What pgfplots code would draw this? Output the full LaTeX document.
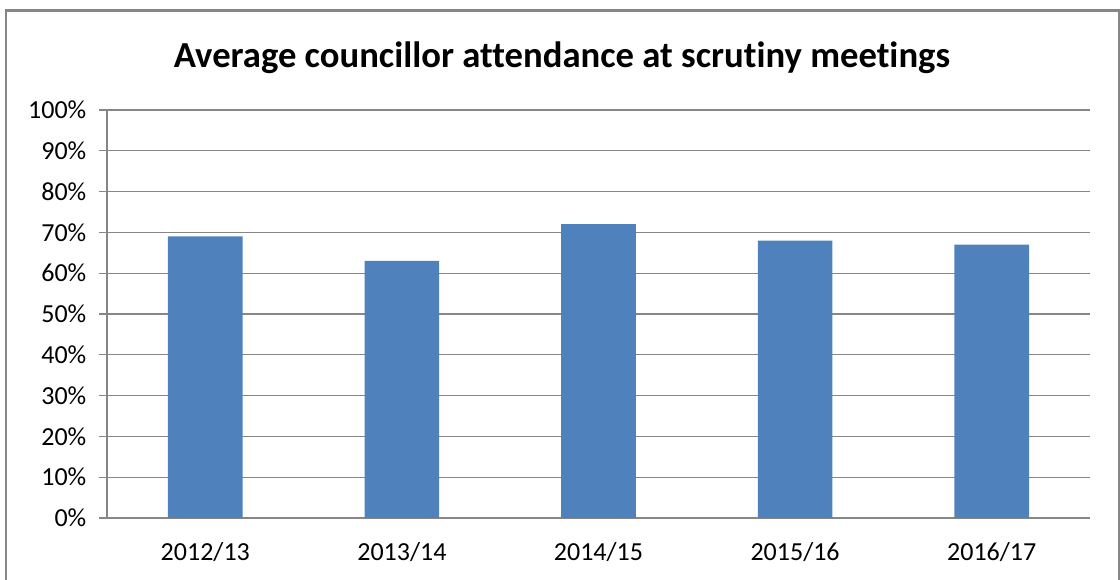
\documentclass[border=0pt]{standalone}
\usepackage{fontspec}
\setmainfont{Carlito}[Ligatures={NoCommon}]
\usepackage{pgfplots}
\pgfplotsset{compat=1.18}
\definecolor{barblue}{HTML}{4F81BD}
\definecolor{gridgray}{HTML}{868686}
\begin{document}
\begin{tikzpicture}[x=1pt,y=1pt]
\path[use as bounding box] (0,0) rectangle (840,435);
\draw[gridgray, line width=1.9pt] (4.5,-3) -- (4.5,427.1) -- (839.25,427.1) -- (839.25,-3);
\node[font=\fontsize{27.5}{32}\selectfont\bfseries] at (421.5,391.5) {Average councillor attendance at scrutiny meetings};
\begin{axis}[
  at={(80.25pt,46.5pt)}, anchor=south west,
  scale only axis, width=737.25pt, height=306pt,
  xmin=-0.5, xmax=4.5, ymin=0, ymax=100,
  axis lines*=left,
  axis line style={gridgray, line width=1pt},
  ybar, bar width=56pt,
  ytick={0,10,...,100},
  yticklabel={\pgfmathprintnumber{\tick}\%},
  /pgf/number format/assume math mode=true,
  /pgf/number format/fixed, /pgf/number format/precision=0,
  ymajorgrids, grid style={gridgray, line width=1pt},
  xtick={0,1,2,3,4},
  xticklabels={2012/13,2013/14,2014/15,2015/16,2016/17},
  x tick style={draw=none},
  y tick style={gridgray, line width=1pt},
  tick align=outside, major tick length=6pt,
  extra x ticks={-0.5,0.5,1.5,2.5,3.5,4.5},
  extra x tick labels={},
  extra x tick style={grid=none, major tick length=7.5pt, tick style={draw=gridgray, line width=1pt}},
  ticklabel style={font=\fontsize{19.5}{23}\selectfont, text=black},
  yticklabel style={xshift=-6pt},
  xticklabel style={yshift=-9pt},
]
\addplot[draw=none, fill=barblue] coordinates {(0,69) (1,63) (2,72) (3,68) (4,67)};
\end{axis}
\end{tikzpicture}
\end{document}
